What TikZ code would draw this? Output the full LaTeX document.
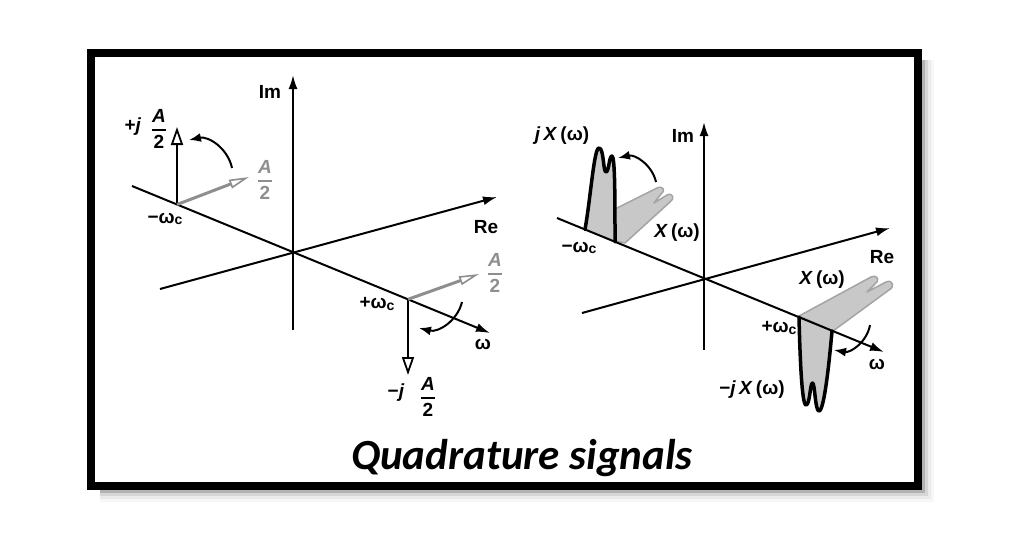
\documentclass[tikz,border=0pt]{standalone}
\usepackage{amsmath}
\usepackage{fontspec}
\setmainfont{Liberation Sans}
\newfontfamily\titlefont{Carlito}
\usetikzlibrary{arrows.meta}
\definecolor{vecgray}{HTML}{8E8E8E}
\definecolor{specfill}{HTML}{C8C8C8}
\definecolor{specline}{HTML}{A4A4A4}
\newcommand{\halfA}{\genfrac{}{}{1.5pt}{0}{\text{\itshape A}}{\text{2}}}
\newcommand{\wc}{\raisebox{-1.5pt}{\fontsize{14}{14}\selectfont c}}

\begin{document}
\begin{tikzpicture}[x=1pt,y=-1pt,
  axis/.style={line width=2pt,-{Latex[length=14pt,width=9pt]}},
  jvec/.style={line width=2.5pt,-{Triangle[open,length=18pt,width=12pt,line width=1.8pt]}},
  revec/.style={vecgray,line width=3pt,-{Triangle[open,length=20pt,width=9pt,line width=1.6pt]}},
  turn/.style={line width=2pt,-{Latex[length=12pt,width=9pt]}},
  spec/.style={line width=3.5pt,fill=specfill,line join=round,line cap=round},
  respec/.style={line width=1.5pt,draw=specline,fill=specfill,line join=round},
  lbl/.style={font=\bfseries\fontsize{19}{22}\selectfont,inner sep=0pt}]
  \useasboundingbox (0,0) rectangle (1022,542);

  % frame with its shadow
  \coordinate (fa) at (91,53);
  \coordinate (fb) at (918,486);
  \foreach \d/\o in {1.5/0.3,4.5/0.16,7.5/0.08,10.5/0.03}
    \draw[line width=3pt,opacity=\o] (922+\d,60) -- (922+\d,490+\d) -- (100,490+\d);
  \draw[line width=8pt] (fa) rectangle (fb);

  % left picture: tones
  \coordinate (oL) at (293,253);
  \coordinate (imLtop) at (293,75);
  \coordinate (imLbot) at (293,330);
  \coordinate (wLa) at (132,186);
  \coordinate (wLb) at (490,333);
  \coordinate (reLa) at (160,289);
  \coordinate (reLb) at (497,197);
  \coordinate (mwcL) at (177,204.5);
  \coordinate (pwcL) at (408,299.3);
  \coordinate (jupL) at (177,127);
  \coordinate (reupL) at (249,177);
  \coordinate (jdnL) at (408,375);
  \coordinate (redn) at (479,274);
  \coordinate (t1a) at (232,168);
  \coordinate (t1b) at (189,140);
  \coordinate (t2a) at (462,302);
  \coordinate (t2b) at (419,328);

  \draw[axis] (imLbot) -- (imLtop);
  \draw[axis] (wLa) -- (wLb);
  \draw[axis] (reLa) -- (reLb);
  \draw[jvec] (mwcL) -- (jupL);
  \draw[revec] (mwcL) -- (reupL);
  \draw[jvec] (pwcL) -- (jdnL);
  \draw[revec] (pwcL) -- (redn);
  \path[turn] (t1a) edge[bend right=45] (t1b);
  \path[turn] (t2a) edge[bend left=45] (t2b);

  \begin{scope}[every node/.style={lbl}]
    \node (imL) at (270,92) {Im};
    \node (reL) at (486,227) {Re};
    \node (wL) at (483,344) {ω};
    \node (mwcLlbl) at (165,219) {−ω\wc};
    \node (pwcLlbl) at (377,304) {+ω\wc};
    \node (pjL) at (133,127) {+\textit{j}};
    \node (pjfrac) at (159,129) {$\halfA$};
    \node (mjL) at (396,393) {−\textit{j}};
    \node (mjfrac) at (428,397) {$\halfA$};
    \node[vecgray] (reuplbl) at (265,180) {$\halfA$};
    \node[vecgray] (redlbl) at (495,273) {$\halfA$};
  \end{scope}

  % right picture: spectra
  \coordinate (oR) at (704,280);
  \coordinate (imRtop) at (704,122);
  \coordinate (imRbot) at (704,350);
  \coordinate (wRa) at (557,218);
  \coordinate (wRb) at (884,352);
  \coordinate (reRa) at (582,313);
  \coordinate (reRb) at (890,228);
  \coordinate (t3a) at (656,182);
  \coordinate (t3b) at (618,158);
  \coordinate (t4a) at (870,325);
  \coordinate (t4b) at (834,350);

  \filldraw[respec] (615,209) -- (657,188) .. controls (663,185) and (666,191) .. (661,194)
    -- (654,203) -- (667,195) .. controls (673,192) and (675,199) .. (670,202) -- (625,243) -- (615,241) -- cycle;
  \filldraw[respec] (799,316) -- (871,277) .. controls (878,274) and (880,281) .. (875,284)
    -- (867,292) -- (886,282) .. controls (893,279) and (895,287) .. (889,290) -- (833,331) -- cycle;
  \filldraw[spec] (585,229.5) .. controls (591,195) and (594,148) .. (599,148)
    .. controls (604,148) and (603,172) .. (606,172) .. controls (609,172) and (609,156) .. (612,156)
    .. controls (615,156) and (615,200) .. (615,241.8);
  \filldraw[spec] (799,317) .. controls (800,360) and (802,405) .. (806,405)
    .. controls (810,405) and (810,383) .. (812.5,383) .. controls (815,383) and (815,411) .. (819,411)
    .. controls (824,411) and (829,365) .. (832,331);

  \draw[axis] (imRbot) -- (imRtop);
  \draw[axis] (wRa) -- (wRb);
  \draw[axis] (reRa) -- (reRb);
  \path[turn] (t3a) edge[bend right=45] (t3b);
  \path[turn] (t4a) edge[bend left=45] (t4b);

  \begin{scope}[every node/.style={lbl}]
    \node (imR) at (683,136) {Im};
    \node (reR) at (882,257) {Re};
    \node (wR) at (877,364) {ω};
    \node (mwcRlbl) at (579,248) {−ω\wc};
    \node (pwcRlbl) at (779,328) {+ω\wc};
    \node (jX) at (562,136) {\textit{j}\,\textit{X}\,(ω)};
    \node (XL) at (677,233) {\textit{X}\,(ω)};
    \node (XR) at (822,280) {\textit{X}\,(ω)};
    \node (mjX) at (752,390) {−\textit{j}\,\textit{X}\,(ω)};
  \end{scope}

  \node[font=\titlefont\bfseries\itshape\fontsize{43}{50}\selectfont,anchor=base] (title) at (522,469) {Quadrature signals};
\end{tikzpicture}
\end{document}
